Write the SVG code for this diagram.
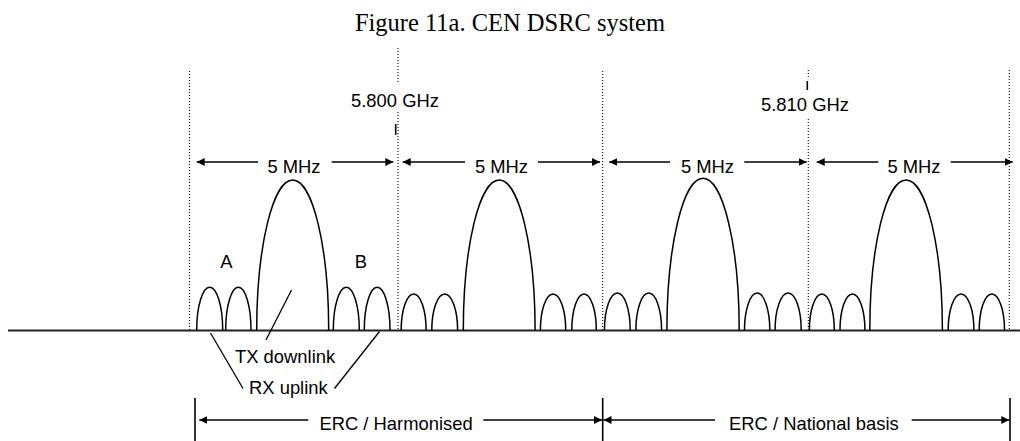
<svg xmlns="http://www.w3.org/2000/svg" width="1020" height="441" viewBox="0 0 1020 441">
<defs>
<style>
.t{font-family:"Liberation Sans",Arial,sans-serif;font-size:18.4px;fill:#000}
.ttl{font-family:"Liberation Serif","Times New Roman",serif;font-size:24.5px;fill:#000}
.dot{stroke:#000;stroke-width:1.1;stroke-dasharray:1 2;fill:none}
.lobe{stroke:#000;stroke-width:1.5;fill:none}
.ln{stroke:#000;stroke-width:1.3;fill:none}
.arr{stroke:#000;stroke-width:1.4;fill:none}
</style>
<marker id="ah" markerUnits="userSpaceOnUse" markerWidth="10" markerHeight="10" refX="8" refY="4" orient="auto-start-reverse">
<path d="M0,0 L8,4 L0,8 z" fill="#000"/>
</marker>
</defs>
<rect width="1020" height="441" fill="#fff"/>
<text id="title" class="ttl" x="510" y="31" text-anchor="middle">Figure 11a. CEN DSRC system</text>

<g id="gridlines">
<line class="dot" x1="189.5" y1="71" x2="189.5" y2="330"/>
<line class="dot" x1="398" y1="48" x2="398" y2="82"/>
<line class="dot" x1="398" y1="112" x2="398" y2="330"/>
<line class="dot" x1="602.7" y1="71" x2="602.7" y2="330"/>
<line class="dot" x1="808.3" y1="70" x2="808.3" y2="79"/>
<line class="dot" x1="808.3" y1="119" x2="808.3" y2="330"/>
<line class="dot" x1="1009.3" y1="70" x2="1009.3" y2="330"/>
<line x1="395.7" y1="124" x2="395.7" y2="135" stroke="#000" stroke-width="1.6"/>
<line x1="807.3" y1="81" x2="807.3" y2="90" stroke="#000" stroke-width="1.6"/>
</g>

<g id="freq-labels">
<text class="t" x="395" y="107" text-anchor="middle">5.800 GHz</text>
<text class="t" x="805" y="110.5" text-anchor="middle">5.810 GHz</text>
</g>

<line id="axis" x1="8" y1="330.5" x2="1020" y2="330.5" stroke="#222" stroke-width="2"/>

<g id="channel1">
<path class="lobe" d="M196.7,330 A13,42.7 0 0 1 222.7,330"/>
<path class="lobe" d="M225.7,330 A12.65,42.7 0 0 1 251,330"/>
<path class="lobe" d="M256.7,330 A36,150 0 0 1 328.7,330"/>
<path class="lobe" d="M333.3,330 A13,42.7 0 0 1 359.3,330"/>
<path class="lobe" d="M364.3,330 A12.85,42.7 0 0 1 390,330"/>
<text class="t" x="226.5" y="268.3" text-anchor="middle">A</text>
<text class="t" x="361" y="268.3" text-anchor="middle">B</text>
</g>
<g id="channel2">
<path class="lobe" d="M401.2,330 A12.45,36 0 0 1 426.1,330"/>
<path class="lobe" d="M431.8,330 A12.9,36 0 0 1 457.6,330"/>
<path class="lobe" d="M463.3,330 A35.9,150 0 0 1 535.1,330"/>
<path class="lobe" d="M540.4,330 A12.65,36 0 0 1 565.7,330"/>
<path class="lobe" d="M571.8,330 A12.25,36 0 0 1 596.3,330"/>
</g>
<g id="channel3">
<path class="lobe" d="M604.5,330 A12.85,37 0 0 1 630.2,330"/>
<path class="lobe" d="M635.9,330 A12.85,37 0 0 1 661.6,330"/>
<path class="lobe" d="M666.9,330 A36.15,151.7 0 0 1 739.2,330"/>
<path class="lobe" d="M744.5,330 A12.65,37 0 0 1 769.8,330"/>
<path class="lobe" d="M775.1,330 A13.05,37 0 0 1 801.2,330"/>
</g>
<g id="channel4">
<path class="lobe" d="M809.4,330 A12.45,36 0 0 1 834.3,330"/>
<path class="lobe" d="M840,330 A12.45,36 0 0 1 864.9,330"/>
<path class="lobe" d="M869.8,330 A36.3,150 0 0 1 942.4,330"/>
<path class="lobe" d="M948.2,330 A12.85,36 0 0 1 973.9,330"/>
<path class="lobe" d="M979.2,330 A12.65,36 0 0 1 1004.5,330"/>
</g>

<g id="legend">
<text class="t" x="235" y="362.7">TX downlink</text>
<text class="t" x="249" y="394">RX uplink</text>
</g>

<g id="connectors">
<line class="ln" x1="291.5" y1="290" x2="266" y2="340"/>
<line class="ln" x1="210.5" y1="333" x2="243" y2="388.5"/>
<line class="ln" x1="379.5" y1="331.5" x2="334.5" y2="388.5"/>

<line class="arr" x1="196.7" y1="162" x2="258" y2="162" marker-start="url(#ah)"/>
<line class="arr" x1="331.7" y1="162" x2="393.3" y2="162" marker-end="url(#ah)"/>
<line class="arr" x1="402.7" y1="162" x2="465" y2="162" marker-start="url(#ah)"/>
<line class="arr" x1="538" y1="162" x2="600" y2="162" marker-end="url(#ah)"/>
<line class="arr" x1="609.3" y1="162" x2="670" y2="162" marker-start="url(#ah)"/>
<line class="arr" x1="744.3" y1="162" x2="806.7" y2="162" marker-end="url(#ah)"/>
<line class="arr" x1="816.7" y1="162" x2="878.3" y2="162" marker-start="url(#ah)"/>
<line class="arr" x1="950.7" y1="162" x2="1012.7" y2="162" marker-end="url(#ah)"/>

<line x1="195" y1="398" x2="195" y2="441" stroke="#000" stroke-width="1.6"/>
<line x1="602.7" y1="398" x2="602.7" y2="441" stroke="#000" stroke-width="1.6"/>
<line x1="1010" y1="398" x2="1010" y2="441" stroke="#000" stroke-width="1.6"/>
<line class="arr" x1="199.3" y1="420" x2="308.3" y2="420" marker-start="url(#ah)"/>
<line class="arr" x1="483.3" y1="420" x2="602" y2="420" marker-end="url(#ah)"/>
<line class="arr" x1="603.5" y1="420" x2="715" y2="420" marker-start="url(#ah)"/>
<line class="arr" x1="911.7" y1="420" x2="1009.3" y2="420" marker-end="url(#ah)"/>
</g>

<g id="dim-labels">
<text class="t" x="294" y="172.5" text-anchor="middle">5 MHz</text>
<text class="t" x="501.5" y="172.5" text-anchor="middle">5 MHz</text>
<text class="t" x="707.5" y="172.5" text-anchor="middle">5 MHz</text>
<text class="t" x="914" y="172.5" text-anchor="middle">5 MHz</text>
<text class="t" x="319.4" y="430">ERC / Harmonised</text>
<text class="t" x="729" y="430">ERC / National basis</text>
</g>
</svg>
